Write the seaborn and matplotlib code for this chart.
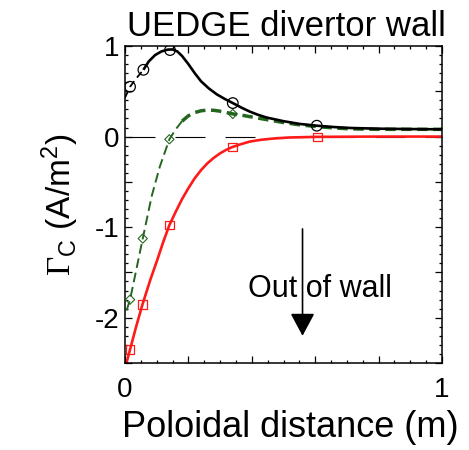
import numpy as np
import pandas as pd
import matplotlib
matplotlib.use("Agg")
import matplotlib.pyplot as plt
from matplotlib.ticker import MultipleLocator, FuncFormatter
import seaborn as sns

# Net carbon flux along the divertor wall (A/m^2) vs poloidal distance (m)
total_x = [0.0, 0.016, 0.035, 0.058, 0.075, 0.095, 0.115, 0.135, 0.15, 0.165, 0.18,
           0.2, 0.22, 0.24, 0.265, 0.29, 0.315, 0.34, 0.37, 0.394, 0.42, 0.447,
           0.5, 0.55, 0.605, 0.66, 0.71, 0.8, 0.9, 1.0]
total_y = [0.43, 0.55, 0.64, 0.737, 0.83, 0.9, 0.94, 0.96, 0.962, 0.94, 0.89,
           0.8, 0.7, 0.61, 0.53, 0.465, 0.415, 0.37, 0.315, 0.275, 0.24, 0.21,
           0.17, 0.14, 0.12, 0.105, 0.095, 0.087, 0.083, 0.08]
total_mx = [0.016, 0.058, 0.142, 0.34, 0.605]
total_my = [0.55, 0.737, 0.955, 0.37, 0.12]

chem_x = [0.005, 0.016, 0.035, 0.056, 0.084, 0.11, 0.14, 0.16, 0.18, 0.2, 0.22,
          0.24, 0.26, 0.28, 0.3, 0.32, 0.34, 0.37, 0.394, 0.45, 0.5, 0.55, 0.605,
          0.66, 0.71, 0.8, 1.0]
chem_y = [-1.92, -1.8, -1.48, -1.126, -0.66, -0.33, -0.03, 0.08, 0.17, 0.23, 0.265,
          0.285, 0.292, 0.29, 0.28, 0.265, 0.25, 0.235, 0.22, 0.185, 0.155, 0.13, 0.11,
          0.095, 0.085, 0.08, 0.08]
chem_mx = [0.016, 0.056, 0.14, 0.34]
chem_my = [-1.8, -1.126, -0.03, 0.25]

phys_x = [0.0, 0.016, 0.035, 0.055, 0.08, 0.1, 0.12, 0.14, 0.16, 0.18, 0.2, 0.22,
          0.24, 0.26, 0.28, 0.3, 0.32, 0.339, 0.36, 0.394, 0.43, 0.467, 0.52, 0.607,
          0.8, 1.0]
phys_y = [-2.56, -2.35, -2.1, -1.855, -1.58, -1.38, -1.17, -0.978, -0.83, -0.69,
          -0.57, -0.46, -0.37, -0.295, -0.235, -0.185, -0.145, -0.115, -0.09, -0.055,
          -0.035, -0.022, -0.01, -0.003, 0.0, 0.0]
phys_mx = [0.016, 0.055, 0.14, 0.339, 0.607]
phys_my = [-2.35, -1.855, -0.978, -0.115, -0.003]

x_labels = {0: "0", 1: "1"}
y_labels = {1: "1", 0: "0", -1: "-1", -2: "-2"}

sns.set_style("ticks")
plt.rcParams["font.family"] = ["Liberation Sans", "DejaVu Sans"]
plt.rcParams["axes.unicode_minus"] = False
plt.rcParams["mathtext.fontset"] = "custom"
plt.rcParams["mathtext.rm"] = "Liberation Serif"
plt.rcParams["mathtext.sf"] = "Liberation Sans"
plt.rcParams["mathtext.it"] = "Liberation Sans:italic"
for key in ["text.color", "axes.labelcolor", "xtick.color", "ytick.color",
            "axes.edgecolor"]:
    plt.rcParams[key] = "black"

fig = plt.figure(figsize=(4.69, 4.5), dpi=100)
ax = fig.add_axes([125 / 469, 1 - 363 / 450, 317 / 469, 317 / 450])

GREEN = "#24661e"
RED = "#ff1a1a"

# zero reference line
ax.axhline(0, color="black", lw=0.8, dashes=(27, 18), zorder=1)

total = pd.DataFrame({"x": total_x, "y": total_y})
chem = pd.DataFrame({"x": chem_x, "y": chem_y})
phys = pd.DataFrame({"x": phys_x, "y": phys_y})


def draw(df, color, lw, dashes=None):
    sns.lineplot(data=df, x="x", y="y", ax=ax, color=color, lw=lw,
                 estimator=None, sort=False, legend=False)
    line = ax.lines[-1]
    if dashes is not None:
        line.set_dashes(dashes)
    line.set_solid_capstyle("butt")
    line.set_solid_joinstyle("round")
    return line


# physical sputtering (red, solid)
draw(phys, RED, 1.9)
# chemical sputtering (green): thin dashes near the strike point, heavy dashes beyond
draw(chem[chem.x <= 0.18], GREEN, 1.4, (5, 2.5))
draw(chem[chem.x >= 0.18], GREEN, 2.5, (3, 1.6))
# total (black): dashed near the strike point, solid beyond
draw(total[total.x <= 0.058], "black", 1.3, (4, 2.5))
draw(total[total.x >= 0.058], "black", 1.9)

sns.scatterplot(x=total_mx, y=total_my, ax=ax, marker="o", s=58,
                facecolor="none", edgecolor="black", linewidth=0.9, zorder=5)
sns.scatterplot(x=phys_mx, y=phys_my, ax=ax, marker="s", s=38,
                facecolor="none", edgecolor=RED, linewidth=0.9, zorder=5)
sns.scatterplot(x=chem_mx, y=chem_my, ax=ax, marker="D", s=22,
                facecolor="none", edgecolor=GREEN, linewidth=0.8, zorder=5)

ax.set_xlim(0, 1)
ax.set_ylim(-2.5, 1.0)

ax.xaxis.set_major_locator(MultipleLocator(0.2))
ax.xaxis.set_minor_locator(MultipleLocator(0.05))
ax.yaxis.set_major_locator(MultipleLocator(0.5))
ax.yaxis.set_minor_locator(MultipleLocator(0.1))


def int_only(labels):
    def fmt(v, pos):
        r = round(v)
        if abs(v - r) < 1e-6 and r in labels:
            return labels[r]
        return ""
    return FuncFormatter(fmt)


ax.xaxis.set_major_formatter(int_only(x_labels))
ax.yaxis.set_major_formatter(int_only(y_labels))

ax.tick_params(which="both", direction="in", top=True, right=True, width=0.9,
               color="black", labelcolor="black")
ax.tick_params(which="major", length=5)
ax.tick_params(which="minor", length=2.5)
ax.tick_params(axis="x", which="major", labelsize=20, pad=10)
ax.tick_params(axis="y", which="major", labelsize=20, pad=4)

for s in ax.spines.values():
    s.set_linewidth(1.1)
    s.set_color("black")

ax.set_title("UEDGE divertor wall", fontsize=25, pad=7, color="black", x=0.51)
ax.set_xlabel("Poloidal distance (m)", fontsize=26, labelpad=5, color="black")
ax.xaxis.label.set_x(0.52)
ax.set_ylabel(r"$\Gamma_{\mathsf{C}}$ (A/m$^{\mathsf{2}}$)", fontsize=24,
              labelpad=10, color="black")

# direction annotation
ax.annotate("", xy=(0.56, -2.2), xytext=(0.56, -1.02),
            arrowprops=dict(arrowstyle="-|>,head_length=1.4,head_width=0.75",
                            color="black", lw=1.2, shrinkA=0, shrinkB=0))
ax.text(0.615, -1.68, "Out of wall", fontsize=22, ha="center", va="center",
        color="black")

fig.savefig("out.png", dpi=100)
